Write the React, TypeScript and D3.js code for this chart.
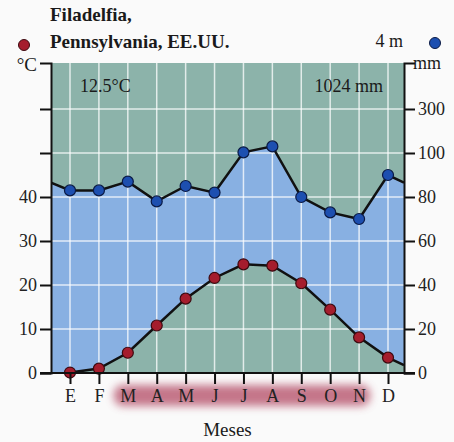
import React, { useRef, useEffect } from 'react';
import * as d3 from 'd3';

// Filadelfia climate diagram (Walter-Lieth style)
const months = ["E", "F", "M", "A", "M", "J", "J", "A", "S", "O", "N", "D"];
const temps = [0.1, 1.0, 4.6, 10.8, 16.9, 21.6, 24.7, 24.4, 20.4, 14.4, 8.1, 3.5];
const precip = [83, 83, 87, 78, 85, 82, 103, 130, 80, 73, 70, 90];
const tempTicks = [0, 10, 20, 30, 40, 50, 60];
const tempLabelled = [0, 10, 20, 30, 40];
const precipTicks = [0, 20, 40, 60, 80, 100, 300];
const frostFree = [2, 10]; // M .. N shaded

const serif = "'Liberation Serif', 'DejaVu Serif', serif";

const ClimateChart: React.FC<{ width?: number; height?: number }> = ({ width = 454, height = 442 }) => {
  const ref = useRef(null);

  useEffect(() => {
    const svg = d3.select(ref.current);
    svg.selectAll("*").remove();

    const left = 51, right = 404, top = 63, bottom = 373;

    const x = d3.scalePoint<number>()
      .domain(d3.range(months.length))
      .range([70, 388]);

    // temperature scale, 10 °C = 44 px
    const yT0 = d3.scaleLinear().domain([0, 60]).range([bottom, bottom - 264]);
    const tTop = yT0.invert(top);
    const yT = d3.scaleLinear().domain([0, tTop]).range([bottom, top]);

    // precipitation: 20 mm = 10 °C up to 100 mm, then compressed 1:10
    const yP0 = d3.scaleLinear().domain([0, 100, 300]).range([yT(0), yT(50), yT(60)]);
    const pTop = yP0.invert(top);
    const yP = d3.scaleLinear().domain([0, 100, 300, pTop]).range([yT(0), yT(50), yT(60), top]);

    const defs = svg.append("defs");
    defs.append("clipPath").attr("id", "plotclip")
      .append("rect").attr("x", left).attr("y", top)
      .attr("width", right - left).attr("height", bottom - top);
    defs.append("filter").attr("id", "blur")
      .attr("x", "-20%").attr("y", "-80%").attr("width", "140%").attr("height", "260%")
      .append("feGaussianBlur").attr("stdDeviation", 4);

    // frost-free shading behind month labels
    svg.append("rect")
      .attr("x", (x(frostFree[0]) as number) - 14)
      .attr("y", 385)
      .attr("width", (x(frostFree[1]) as number) - (x(frostFree[0]) as number) + 25)
      .attr("height", 21)
      .attr("rx", 9)
      .attr("fill", "#bb5e76")
      .attr("opacity", 0.85)
      .attr("filter", "url(#blur)");

    // background (arid / above precipitation)
    svg.append("rect")
      .attr("x", left).attr("y", top)
      .attr("width", right - left).attr("height", bottom - top)
      .attr("fill", "#8cb3aa");

    // wrap-around values at the edges
    const tEdge = (temps[0] + temps[temps.length - 1]) / 2;
    const pEdge = (precip[0] + precip[precip.length - 1]) / 2;
    type Pt = { x: number; t: number; p: number };
    const monthPts: Pt[] = months.map((_, i) => ({ x: x(i) as number, t: temps[i], p: precip[i] }));
    const pts: Pt[] = [
      { x: left, t: temps[0], p: pEdge },
      ...monthPts,
      { x: right, t: tEdge, p: pEdge },
    ];

    const plot = svg.append("g").attr("clip-path", "url(#plotclip)");

    // humid period
    const area = d3.area<Pt>()
      .x(d => d.x)
      .y0(d => yT(d.t))
      .y1(d => yP(d.p));
    plot.append("path").datum(pts)
      .attr("fill", "#88b0e2")
      .attr("d", area);

    // grid
    plot.selectAll(".vgrid").data(d3.range(months.length)).join("line")
      .attr("x1", d => x(d) as number).attr("x2", d => x(d) as number)
      .attr("y1", top).attr("y2", bottom)
      .attr("stroke", "#ffffff").attr("stroke-opacity", 0.75).attr("stroke-width", 1.5);
    plot.selectAll(".hgrid").data(tempTicks.slice(1)).join("line")
      .attr("x1", left).attr("x2", right)
      .attr("y1", d => yT(d)).attr("y2", d => yT(d))
      .attr("stroke", "#ffffff").attr("stroke-opacity", 0.75).attr("stroke-width", 1.5);

    // lines: precipitation wraps at both edges, temperature starts at January
    const tLine = d3.line<Pt>().x(d => d.x).y(d => yT(d.t));
    const pLine = d3.line<Pt>().x(d => d.x).y(d => yP(d.p));
    plot.append("path").datum(pts)
      .attr("fill", "none").attr("stroke", "#111").attr("stroke-width", 2.5)
      .attr("d", pLine);
    plot.append("path").datum(pts.slice(1))
      .attr("fill", "none").attr("stroke", "#111").attr("stroke-width", 2.5)
      .attr("d", tLine);

    // points
    svg.selectAll(".pdot").data(precip).join("circle")
      .attr("cx", (_, i) => x(i) as number)
      .attr("cy", d => yP(d))
      .attr("r", 5.5)
      .attr("fill", "#1d4fb0").attr("stroke", "#0b1a44").attr("stroke-width", 1.2);
    svg.selectAll(".tdot").data(temps).join("circle")
      .attr("cx", (_, i) => x(i) as number)
      .attr("cy", d => yT(d))
      .attr("r", 5.5)
      .attr("fill", "#a51d2d").attr("stroke", "#3d0a10").attr("stroke-width", 1.2);

    const styleAxis = (g: any) => {
      g.attr("font-family", serif).attr("font-size", 18);
      g.selectAll("path, line").attr("stroke", "#111").attr("stroke-width", 2);
      g.selectAll("text").attr("fill", "#222");
    };

    // left axis
    svg.append("g")
      .attr("transform", `translate(${left},0)`)
      .call(d3.axisLeft(yT).tickValues(tempTicks).tickSize(11).tickSizeOuter(11).tickPadding(3)
        .tickFormat(d => (tempLabelled.includes(+d) ? String(d) : "")))
      .call(styleAxis);

    // right axis
    svg.append("g")
      .attr("transform", `translate(${right},0)`)
      .call(d3.axisRight(yP).tickValues(precipTicks).tickSize(11).tickSizeOuter(11).tickPadding(3)
        .tickFormat(d => String(d)))
      .call(styleAxis);

    // bottom axis
    const bx = svg.append("g")
      .attr("transform", `translate(0,${bottom})`)
      .call(d3.axisBottom(x).tickSize(11).tickPadding(5).tickFormat(i => months[+i]))
      .call(styleAxis);
    bx.select(".domain").remove();
    bx.append("line")
      .attr("x1", left - 11).attr("x2", right + 11)
      .attr("y1", 0).attr("y2", 0)
      .attr("stroke", "#111").attr("stroke-width", 2);

    // texts
    const txt = (s: string, tx: number, ty: number, size: number, anchor = "start", weight = "normal") =>
      svg.append("text").attr("x", tx).attr("y", ty)
        .attr("font-family", serif).attr("font-size", size)
        .attr("font-weight", weight).attr("text-anchor", anchor)
        .attr("fill", "#1a1a1a").text(s);

    txt("Filadelfia,", 50, 21, 19, "start", "bold");
    txt("Pennsylvania, EE.UU.", 50, 48, 19, "start", "bold");
    txt("4 m", 403, 47, 18, "end");
    txt("°C", 37, 71, 19, "end");
    txt("mm", 413, 69, 18, "start");
    txt("12.5°C", 80, 92, 18, "start");
    txt("1024 mm", 383, 92, 18, "end");
    txt("Meses", (left + right) / 2, 436, 19, "middle");

    svg.append("circle").attr("cx", 24).attr("cy", 45).attr("r", 5.5)
      .attr("fill", "#a51d2d").attr("stroke", "#3d0a10").attr("stroke-width", 1);
    svg.append("circle").attr("cx", 435).attr("cy", 43).attr("r", 5.5)
      .attr("fill", "#1d4fb0").attr("stroke", "#0b1a44").attr("stroke-width", 1);
  }, [width, height]);

  return <svg ref={ref} width={width} height={height} style={{ display: "block" }} />;
};

export default function App() {
  return (
    <div style={{ position: "absolute", left: 0, top: 0, background: "#fafafa", width: 454, height: 442, overflow: "hidden" }}>
      <ClimateChart />
    </div>
  );
}
